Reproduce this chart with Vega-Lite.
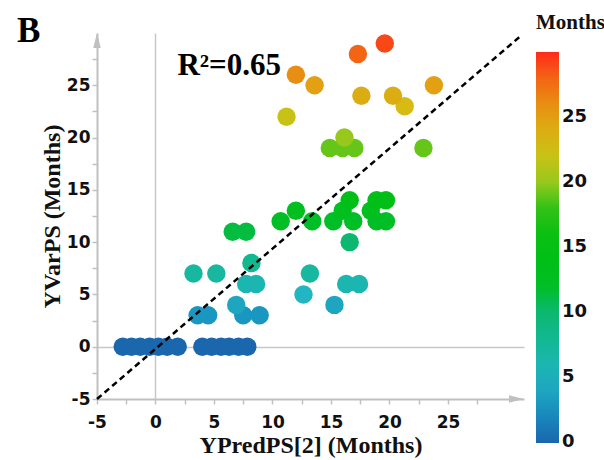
{
  "$schema": "https://vega.github.io/schema/vega-lite/v6.json",
  "width": 427,
  "height": 366,
  "autosize": {"type": "none"},
  "padding": {"left": 97, "top": 33, "right": 80, "bottom": 61},
  "background": "white",
  "title": {"text": "B", "anchor": "start", "frame": "group", "dx": -80, "dy": 65, "offset": 0, "baseline": "alphabetic", "font": "Liberation Serif", "fontSize": 35, "fontWeight": "bold", "color": "#000000"},
  "config": {"view": {"stroke": null}},
  "datasets": {
    "points": [
      {"pred": -2.8, "actual": 0}, {"pred": -2.05, "actual": 0}, {"pred": -1.3, "actual": 0}, {"pred": -0.5, "actual": 0},
      {"pred": 0.25, "actual": 0}, {"pred": 1.0, "actual": 0}, {"pred": 1.9, "actual": 0}, {"pred": 4.0, "actual": 0},
      {"pred": 4.8, "actual": 0}, {"pred": 5.6, "actual": 0}, {"pred": 6.3, "actual": 0}, {"pred": 7.1, "actual": 0},
      {"pred": 7.85, "actual": 0},
      {"pred": 3.6, "actual": 3}, {"pred": 4.5, "actual": 3}, {"pred": 7.5, "actual": 3}, {"pred": 8.9, "actual": 3},
      {"pred": 6.9, "actual": 4}, {"pred": 15.3, "actual": 4},
      {"pred": 12.65, "actual": 5},
      {"pred": 7.75, "actual": 6}, {"pred": 8.6, "actual": 6}, {"pred": 16.3, "actual": 6}, {"pred": 17.4, "actual": 6},
      {"pred": 3.25, "actual": 7}, {"pred": 5.2, "actual": 7}, {"pred": 13.2, "actual": 7},
      {"pred": 8.2, "actual": 8},
      {"pred": 16.6, "actual": 10},
      {"pred": 6.6, "actual": 11}, {"pred": 7.75, "actual": 11},
      {"pred": 10.7, "actual": 12}, {"pred": 13.4, "actual": 12}, {"pred": 15.2, "actual": 12}, {"pred": 16.9, "actual": 12},
      {"pred": 18.9, "actual": 12}, {"pred": 19.7, "actual": 12},
      {"pred": 12.0, "actual": 13}, {"pred": 16.0, "actual": 13}, {"pred": 18.4, "actual": 13},
      {"pred": 16.6, "actual": 14}, {"pred": 18.9, "actual": 14}, {"pred": 19.7, "actual": 14},
      {"pred": 14.9, "actual": 19}, {"pred": 16.0, "actual": 19}, {"pred": 17.0, "actual": 19}, {"pred": 22.9, "actual": 19},
      {"pred": 16.15, "actual": 20},
      {"pred": 11.2, "actual": 22},
      {"pred": 21.3, "actual": 23},
      {"pred": 17.6, "actual": 24}, {"pred": 20.3, "actual": 24},
      {"pred": 13.6, "actual": 25}, {"pred": 23.8, "actual": 25},
      {"pred": 12.0, "actual": 26},
      {"pred": 17.3, "actual": 28},
      {"pred": 19.6, "actual": 29}
    ],
    "fit": [{"pred": -5, "actual": -5}, {"pred": 31.3, "actual": 29.8}],
    "arrowUp": [{"pred": -5, "actual": 30}],
    "arrowRight": [{"pred": 31.5, "actual": -5}],
    "note": [{"pred": 6.3, "actual": 26.0, "text": "R²=0.65"}]
  },
  "encoding": {
    "x": {
      "field": "pred", "type": "quantitative",
      "scale": {"domain": [-5, 31.5], "nice": false, "zero": false},
      "axis": {
        "title": "YPredPS[2] (Months)",
        "values": [-5, -2.5, 0, 2.5, 5, 7.5, 10, 12.5, 15, 17.5, 20, 22.5, 25, 27.5],
        "labelExpr": "datum.value % 5 === 0 ? replace(datum.label, '−', '-') : ''",
        "grid": true, "gridColor": "#c8c8c8", "gridWidth": 1.5,
        "gridOpacity": {"condition": {"test": "datum.value === 0", "value": 1}, "value": 0},
        "domainColor": "#c0c0c0", "domainWidth": 2,
        "tickColor": "#c0c0c0", "tickSize": 5, "tickWidth": 1.5,
        "labelFont": "DejaVu Sans", "labelFontWeight": "bold", "labelFontSize": 17, "labelColor": "#111111",
        "labelPadding": 10, "labelFlush": false, "labelOverlap": false,
        "titleFont": "Liberation Serif", "titleFontSize": 24, "titleFontWeight": "bold", "titleColor": "#111111", "titlePadding": 3
      }
    },
    "y": {
      "field": "actual", "type": "quantitative",
      "scale": {"domain": [-5, 30], "nice": false, "zero": false},
      "axis": {
        "title": "YVarPS (Months)",
        "values": [-5, -2.5, 0, 2.5, 5, 7.5, 10, 12.5, 15, 17.5, 20, 22.5, 25, 27.5],
        "labelExpr": "datum.value % 5 === 0 ? replace(datum.label, '−', '-') : ''",
        "grid": true, "gridColor": "#c8c8c8", "gridWidth": 1.5,
        "gridOpacity": {"condition": {"test": "datum.value === 0", "value": 1}, "value": 0},
        "domainColor": "#c0c0c0", "domainWidth": 2,
        "tickColor": "#c0c0c0", "tickSize": 5, "tickWidth": 1.5,
        "labelFont": "DejaVu Sans", "labelFontWeight": "bold", "labelFontSize": 17, "labelColor": "#111111",
        "labelPadding": 2, "labelFlush": false, "labelOverlap": false,
        "titleFont": "Liberation Serif", "titleFontSize": 24, "titleFontWeight": "bold", "titleColor": "#111111", "titlePadding": 2
      }
    }
  },
  "layer": [
    {
      "data": {"name": "points"},
      "mark": {"type": "circle", "size": 340, "opacity": 1},
      "encoding": {
        "color": {
          "field": "actual", "type": "quantitative",
          "scale": {
            "domain": [-0.05, 2.5, 5, 7.5, 10, 11.5, 15, 17.5, 20, 22.5, 25, 27.5, 30],
            "range": ["#1a66ad", "#1890c0", "#22b5c2", "#14b898", "#0cb870", "#00be28", "#00c010", "#18c014", "#98c81c", "#d4c014", "#e2a012", "#f07212", "#ff2a1c"],
            "interpolate": "rgb"
          },
          "legend": {
            "title": "Months", "orient": "none", "legendX": 439, "legendY": -21, "direction": "vertical",
            "gradientLength": 391, "gradientThickness": 23, "gradientStrokeWidth": 0,
            "values": [0, 5, 10, 15, 20, 25],
            "labelFont": "DejaVu Sans", "labelFontWeight": "bold", "labelFontSize": 18, "labelColor": "#111111",
            "labelOffset": 3, "labelBaseline": "middle", "labelOverlap": false,
            "titleFont": "Liberation Serif", "titleFontSize": 21, "titleFontWeight": "bold", "titleColor": "#111111", "titlePadding": 19
          }
        }
      }
    },
    {
      "data": {"name": "fit"},
      "mark": {"type": "line", "color": "#000000", "strokeWidth": 2.5, "strokeDash": [6, 4]},
      "encoding": {}
    },
    {
      "data": {"name": "arrowUp"},
      "mark": {"type": "point", "shape": "M0,0L0.5,2L-0.5,2Z", "filled": true, "color": "#c0c0c0", "opacity": 1, "size": 225},
      "encoding": {}
    },
    {
      "data": {"name": "arrowRight"},
      "mark": {"type": "point", "shape": "M0,0L-2,-0.5L-2,0.5Z", "filled": true, "color": "#c0c0c0", "opacity": 1, "size": 225},
      "encoding": {}
    },
    {
      "data": {"name": "note"},
      "mark": {"type": "text", "font": "Liberation Serif", "fontSize": 31, "fontWeight": "bold", "align": "center", "baseline": "alphabetic", "color": "#000000"},
      "encoding": {"text": {"field": "text"}}
    }
  ]
}
